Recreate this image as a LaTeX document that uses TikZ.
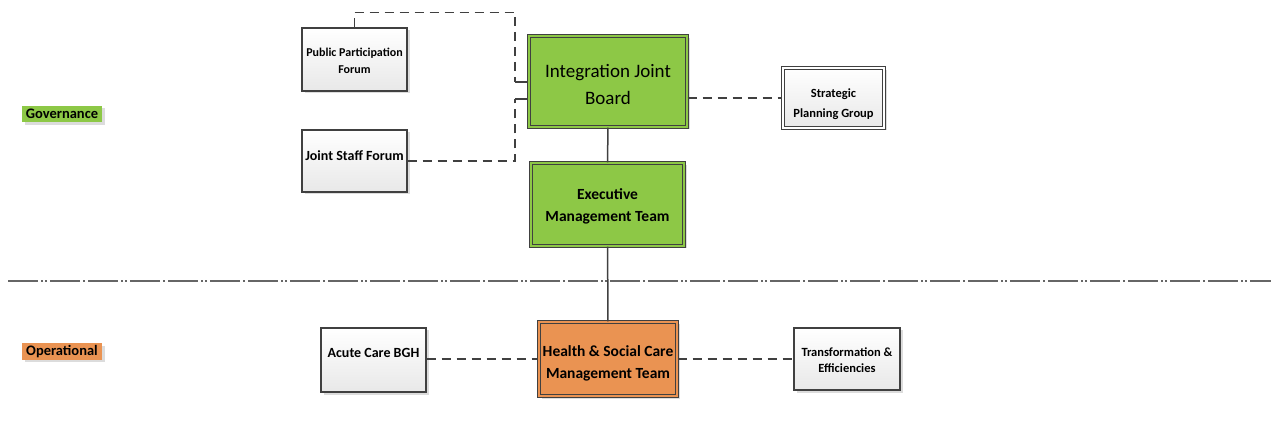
\documentclass[tikz,border=0pt]{standalone}
\usepackage{fontspec}
\setmainfont{Carlito}
\usetikzlibrary{shadows}
\definecolor{ijgreen}{RGB}{141,200,70}
\definecolor{oporange}{RGB}{234,147,82}
\definecolor{edge}{RGB}{64,64,64}
\tikzset{
  shad/.style={drop shadow={shadow xshift=2.5pt,shadow yshift=-2.5pt,fill=black!30,opacity=.45}},
  wbox/.style={draw=edge,line width=1.4pt,top color=white,bottom color=black!9,shad,align=center,inner sep=2pt,font=\bfseries\fontsize{12}{17}\selectfont},
  gbox/.style={draw=edge,line width=1.2pt,double=#1,double distance=2pt,fill=#1,shad,align=center,inner sep=2pt},
  tag/.style={fill=#1,shad,minimum width=80pt,minimum height=16.5pt,inner sep=0pt,font=\bfseries\fontsize{14.5}{16}\selectfont},
  dashline/.style={draw=edge,line width=1.5pt,dash pattern=on 9pt off 6pt},
  link/.style={draw=edge,line width=1.5pt},
  divider/.style={draw=black!60,line width=1.5pt,dash pattern=on 30pt off 3pt on 2pt off 2pt on 2pt off 3pt on 30pt off 3pt on 2pt off 3pt},
}
\begin{document}
\begin{tikzpicture}[x=1pt,y=-1pt]
  \useasboundingbox (0,0) rectangle (1271,427);
  \node[gbox=ijgreen,minimum width=158pt,minimum height=91pt,font=\fontsize{19}{27}\selectfont,text height=47pt,text depth=0pt] (IJB) at (608,81.5) {Integration Joint\\Board};
  \node[gbox=ijgreen,minimum width=153pt,minimum height=83pt,font=\bfseries\fontsize{15.5}{22}\selectfont,text height=35pt,text depth=0pt] (EMT) at (607.5,204.5) {Executive\\Management Team};
  \node[gbox=oporange,minimum width=138pt,minimum height=74pt,font=\bfseries\fontsize{15.5}{22}\selectfont,text height=38pt,text depth=0pt] (HSC) at (608,359) {Health \& Social Care\\Management Team};
  \node[wbox,minimum width=105pt,minimum height=63pt,text height=29pt,text depth=0pt] (PPF) at (354.5,59.5) {Public Participation\\Forum};
  \node[wbox,minimum width=105pt,minimum height=62pt,font=\bfseries\fontsize{14}{17}\selectfont,text height=6pt,text depth=6pt] (JSF) at (354.5,161) {Joint Staff Forum};
  \node[wbox,double=white,line width=1.3pt,double distance=1.6pt,minimum width=101pt,minimum height=60pt,font=\bfseries\fontsize{12.5}{20}\selectfont,text height=40pt,text depth=0pt] (SPG) at (833.5,98) {Strategic\\Planning Group};
  \node[wbox,minimum width=105pt,minimum height=64pt,font=\bfseries\fontsize{14}{17}\selectfont,text height=8pt,text depth=12pt] (ACB) at (373.5,360) {Acute Care BGH};
  \node[wbox,minimum width=106pt,minimum height=62pt,font=\bfseries\fontsize{12.5}{17}\selectfont,text height=28pt,text depth=0pt] (TE) at (847,359) {Transformation \&\\Efficiencies};
  \node[tag=ijgreen] (gov) at (62,114) {Governance};
  \node[tag=oporange] (ops) at (62,351.5) {Operational};
  \coordinate (ja) at (515,82);
  \coordinate (jb) at (515,99);
  \draw[link] (IJB) -- (EMT);
  \draw[link] (EMT) -- (HSC);
  \draw[dashline] (IJB.east |- SPG) -- (SPG.west);
  \draw[dashline] (PPF.north) -- ++(0,-15) -| (ja);
  \draw[link] (ja) -- (ja -| IJB.west);
  \draw[dashline] (JSF.east) -| (jb);
  \draw[link] (jb) -- (jb -| IJB.west);
  \draw[dashline] (ACB.east |- HSC) -- (HSC.west);
  \draw[dashline] (HSC.east) -- (TE.west);
  \draw[divider] (8,281) -- (1271,281);
\end{tikzpicture}
\end{document}
